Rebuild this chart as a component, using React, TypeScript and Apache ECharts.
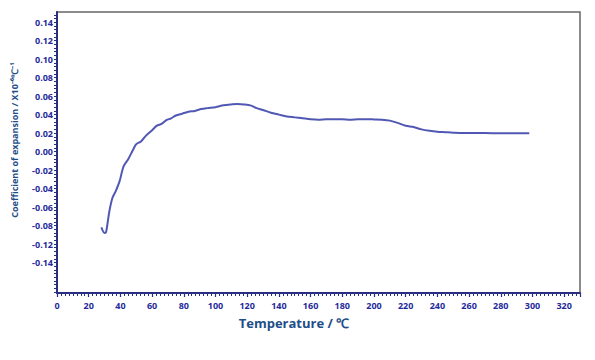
import React, { useEffect, useRef } from "react";
import * as echarts from "echarts";

const temperatures = [
  28, 30, 31, 33, 35, 37, 39.5, 42, 45, 48, 50, 53, 56, 60, 63, 66, 69, 72, 75, 79, 83, 87, 91, 95, 100,
  105, 110, 114, 118, 122, 126, 130, 135, 140, 145, 150, 155, 160, 165, 170, 175, 180, 185, 190, 195, 200,
  205, 210, 215, 220, 225, 230, 235, 240, 245, 250, 260, 270, 280, 290, 298,
];
const expansion = [
  -0.082, -0.088, -0.087, -0.065, -0.05, -0.043, -0.032, -0.016, -0.008, 0.002, 0.008, 0.011, 0.017, 0.023,
  0.028, 0.03, 0.034, 0.036, 0.039, 0.041, 0.043, 0.044, 0.046, 0.047, 0.048, 0.05, 0.051, 0.0515, 0.051, 0.05,
  0.047, 0.045, 0.042, 0.04, 0.038, 0.037, 0.036, 0.035, 0.0345, 0.035, 0.035, 0.035, 0.0345, 0.035, 0.035,
  0.0348, 0.0345, 0.0335, 0.031, 0.028, 0.0265, 0.024, 0.0225, 0.0215, 0.021, 0.0205, 0.02, 0.02, 0.0198,
  0.0198, 0.0198,
];
const yTickValues = [0.14, 0.12, 0.1, 0.08, 0.06, 0.04, 0.02, 0, -0.02, -0.04, -0.06, -0.08, -0.1, -0.12];
const yTickLabels = ["0.14", "0.12", "0.10", "0.08", "0.06", "0.04", "0.02", "0.00", "-0.02", "-0.04", "-0.06", "-0.08", "-0.12", "-0.14"];
const xTitle = "Temperature / ℃";
const yTitle = "Coefficient of expansion / X10⁻⁶℃⁻¹";

export default function App() {
  const ref = useRef<HTMLDivElement>(null);
  useEffect(() => {
    if (!ref.current) return;
    const chart = echarts.init(ref.current, null, { renderer: "svg" });
    const yMinorTicks: number[] = [];
    for (let i = -38; i <= 37; i++) yMinorTicks.push(Math.round(i * 0.004 * 1000) / 1000);
    const labelColor = "#1f2a9c";
    const nameColor = "#1d4e89";
    const axisColor = "#2a2e80";
    chart.setOption({
      animation: false,
      backgroundColor: "#ffffff",
      grid: {
        left: 57,
        right: 15,
        top: 12,
        bottom: 67,
        show: true,
        borderColor: "#666666",
        borderWidth: 1.5,
        backgroundColor: "#ffffff",
      },
      xAxis: {
        type: "value",
        min: 0,
        max: 330,
        interval: 20,
        axisLine: { show: true, onZero: false, lineStyle: { color: axisColor, width: 2 } },
        axisTick: { show: true, length: 4, lineStyle: { color: axisColor, width: 1.2 } },
        minorTick: { show: true, splitNumber: 8, length: 3, lineStyle: { color: axisColor, width: 1 } },
        splitLine: { show: false },
        axisLabel: {
          showMaxLabel: false,
          color: labelColor,
          fontFamily: "Open Sans",
          fontWeight: "bold",
          fontSize: 9,
          margin: 8,
        },
      },
      yAxis: {
        type: "value",
        min: -0.153,
        max: 0.151,
        axisLine: { show: true, onZero: false, lineStyle: { color: axisColor, width: 2 } },
        axisTick: {
          show: true,
          length: 3,
          customValues: yMinorTicks,
          lineStyle: { color: axisColor, width: 1 },
        },
        splitLine: { show: false },
        axisLabel: {
          customValues: yTickValues,
          formatter: (v: number) => {
            const idx = yTickValues.findIndex((t) => Math.abs(t - v) < 1e-6);
            return idx >= 0 ? yTickLabels[idx] : "";
          },
          color: labelColor,
          fontFamily: "Open Sans",
          fontWeight: "bold",
          fontSize: 9,
          margin: 4,
        },
      },
      graphic: [
        {
          type: "text",
          x: 294,
          y: 323,
          style: {
            text: xTitle,
            fill: nameColor,
            font: "bold 13px 'Open Sans'",
            align: "center",
            verticalAlign: "middle",
          },
        },
        {
          type: "text",
          x: 14,
          y: 140,
          rotation: Math.PI / 2,
          style: {
            text: yTitle,
            fill: nameColor,
            font: "bold 9px 'Open Sans'",
            align: "center",
            verticalAlign: "middle",
          },
        },
      ],
      series: [
        {
          type: "line",
          data: temperatures.map((t, i) => [t, expansion[i]]),
          showSymbol: false,
          smooth: 0.3,
          lineStyle: { color: "#5058b4", width: 2 },
        },
      ],
    });
    return () => chart.dispose();
  }, []);
  return <div ref={ref} style={{ width: 595, height: 360, margin: -8 }} />;
}
